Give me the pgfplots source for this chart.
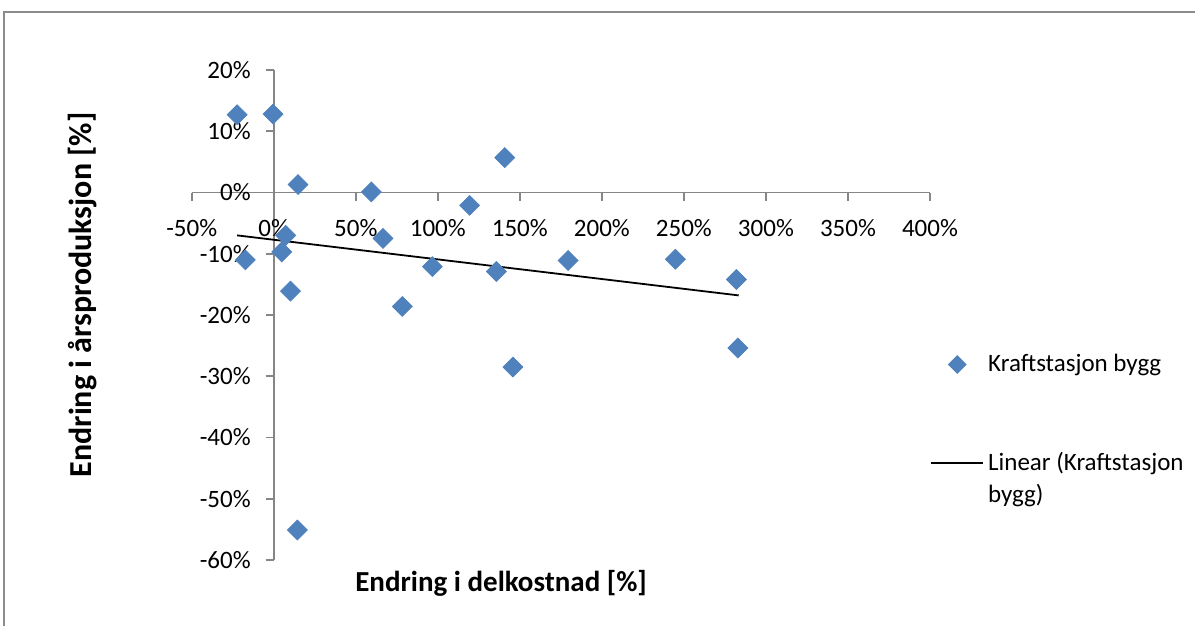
\documentclass[border=0pt]{standalone}
\usepackage{pgfplots}
\pgfplotsset{compat=1.18}
\usepackage{fontspec}
\setmainfont{Carlito}
\definecolor{mblue}{RGB}{79,129,189}
\definecolor{axgray}{RGB}{134,134,134}
\definecolor{framegray}{RGB}{140,140,140}
\pgfplotsset{
  markleg/.style={legend image code/.code={\draw[##1, mark size=3.1pt] plot coordinates {(13pt,0pt)}; \path (0pt,0pt) (26pt,0pt);}},
  lineleg/.style={legend image code/.code={\draw[##1] (0pt,8.3pt) -- (26pt,8.3pt); \path (0pt,0pt);}},
}
\begin{document}
\begin{tikzpicture}
\begin{axis}[
  at={(0,0)}, anchor=south west,
  scale only axis, width=369.15pt, height=245pt,
  xmin=-50, xmax=400, ymin=-60, ymax=20,
  axis lines=middle,
  axis line style={-, draw=axgray, line width=0.9pt},
  tick style={draw=axgray, line width=0.9pt},
  tick align=outside,
  major tick length=4pt,
  hide obscured x ticks=false, hide obscured y ticks=false,
  xtick={-50,0,50,100,150,200,250,300,350,400},
  ytick={-60,-50,-40,-30,-20,-10,0,10,20},
  xticklabels={-50\%,0\%,50\%,100\%,150\%,200\%,250\%,300\%,350\%,400\%},
  yticklabels={-60\%,-50\%,-40\%,-30\%,-20\%,-10\%,0\%,10\%,20\%},
  ticklabel style={font=\fontsize{12.5}{15}\selectfont, text=black},
  xticklabel style={yshift=-6pt},
  yticklabel style={xshift=-4pt},
  xlabel={Endring i delkostnad [\%]},
  ylabel={Endring i årsproduksjon [\%]},
  xlabel style={font=\bfseries\fontsize{14.5}{17}\selectfont, at={(axis description cs:0.419,-0.047)}, anchor=center},
  ylabel style={font=\bfseries\fontsize{16}{19}\selectfont, at={(axis description cs:-0.148,0.541)}, anchor=center, rotate=90},
  clip=false,
  legend style={draw=none, fill=none, inner sep=0pt, at={(axis description cs:1.0,0.265)}, anchor=west,
    font=\fontsize{12.5}{16}\selectfont, row sep=35pt, cells={anchor=west, align=left}},
]
\addplot[only marks, mark=square*, mark size=3.5pt, mark options={rotate=45, fill=mblue, draw=mblue}, markleg]
coordinates {
(-22.3,12.7) (-0.4,12.8) (14.8,1.3) (59.5,0.1) (119.4,-2.1) (140.8,5.7)
(7.3,-7.0) (66.6,-7.5) (-17.3,-11.0) (4.9,-9.7) (96.7,-12.1) (135.7,-12.9)
(10.2,-16.1) (78.4,-18.6) (145.8,-28.5) (14.4,-55.1) (179.4,-11.1)
(244.8,-10.9) (282.0,-14.2) (282.9,-25.4)
};
\addlegendentry{Kraftstasjon bygg}
\addplot[black, line width=0.9pt, lineleg]
coordinates {(-22.3,-7.0) (283.4,-16.8)};
\addlegendentry{Linear (Kraftstasjon\\bygg)}
\end{axis}
\draw[framegray, line width=0.8pt] (-93.85pt,-40pt) -- (-93.85pt,274pt) -- (510pt,274pt);
\pgfresetboundingbox
\useasboundingbox (-95.85pt,-33pt) rectangle (501.65pt,280pt);
\end{tikzpicture}
\end{document}
